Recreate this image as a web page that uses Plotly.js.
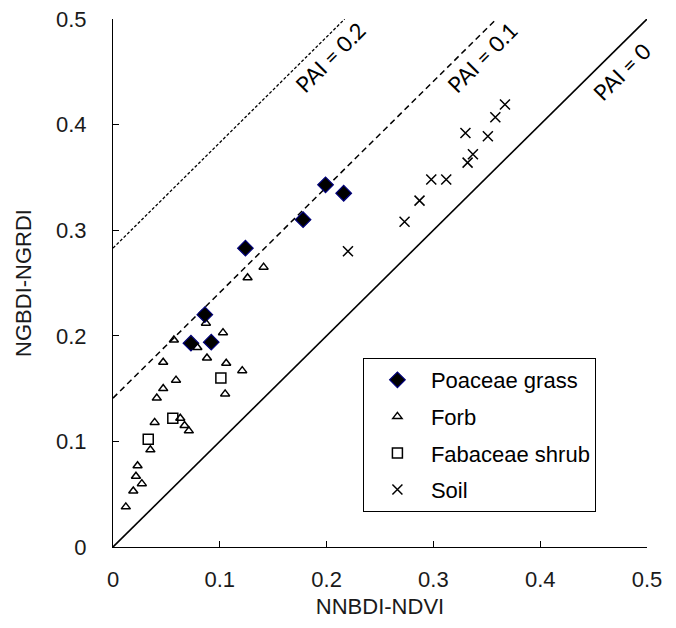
<!DOCTYPE html>
<html>
<head>
<meta charset="utf-8">
<script src="https://cdn.plot.ly/plotly-3.0.1.min.js"></script>
<style>html,body{margin:0;padding:0;background:#fff;}#chart{width:676px;height:628px;}</style>
</head>
<body>
<div id="chart"></div>
<script>
// Poaceae grass
const grassX = [0.124, 0.178, 0.199, 0.216, 0.086, 0.073, 0.092];
const grassY = [0.283, 0.310, 0.343, 0.335, 0.220, 0.193, 0.194];
// Forb
const forbX = [0.141, 0.126, 0.087, 0.103, 0.057, 0.079, 0.088, 0.106, 0.047, 0.121, 0.059, 0.047, 0.041, 0.105, 0.039, 0.063, 0.067, 0.071, 0.035, 0.023, 0.0215, 0.027, 0.019, 0.012];
const forbY = [0.265, 0.255, 0.212, 0.203, 0.196, 0.189, 0.179, 0.174, 0.175, 0.167, 0.158, 0.150, 0.141, 0.145, 0.118, 0.122, 0.115, 0.110, 0.092, 0.077, 0.067, 0.060, 0.053, 0.038];
// Fabaceae shrub
const shrubX = [0.101, 0.056, 0.033];
const shrubY = [0.160, 0.122, 0.102];
// Soil
const soilX = [0.367, 0.358, 0.330, 0.351, 0.337, 0.332, 0.298, 0.312, 0.287, 0.273, 0.220];
const soilY = [0.419, 0.407, 0.392, 0.389, 0.372, 0.364, 0.348, 0.348, 0.328, 0.308, 0.280];
// PAI reference lines: y = x + intercept
const paiLabels = ['PAI = 0', 'PAI = 0.1', 'PAI = 0.2'];
const paiIntercepts = [0, 0.141, 0.283];
const axisMax = 0.5;
const tickVals = [0, 0.1, 0.2, 0.3, 0.4, 0.5];
const tickText = ['0', '0.1', '0.2', '0.3', '0.4', '0.5'];

const dashes = ['solid', '6px,4px', '3px,2px'];
const widths = [1.6, 1.5, 1.3];
const labelPos = [[0.4766, 0.450], [0.3455, 0.464], [0.203, 0.464]];

const traces = [];
paiIntercepts.forEach((b, i) => {
  traces.push({
    x: [0, axisMax - b], y: [b, axisMax],
    mode: 'lines', type: 'scatter', showlegend: false, hoverinfo: 'skip',
    line: {color: '#000', width: widths[i], dash: dashes[i]}
  });
});
traces.push({x: grassX, y: grassY, name: 'Poaceae grass', legendgroup: 'a', mode: 'markers', type: 'scatter',
  marker: {symbol: 'diamond', size: 12, color: '#000', line: {color: '#00007a', width: 1.2}}});
traces.push({x: forbX, y: forbY, name: 'Forb', legendgroup: 'b', mode: 'markers', type: 'scatter',
  marker: {symbol: 'triangle-up-open', size: 8, color: '#000', line: {color: '#000', width: 1.5}}});
traces.push({x: shrubX, y: shrubY, name: 'Fabaceae shrub', legendgroup: 'c', mode: 'markers', type: 'scatter',
  marker: {symbol: 'square-open', size: 10, color: '#000', line: {color: '#000', width: 1.5}}});
traces.push({x: soilX, y: soilY, name: 'Soil', legendgroup: 'd', mode: 'markers', type: 'scatter',
  marker: {symbol: 'x-thin-open', size: 10, color: '#000', line: {color: '#000', width: 1.5}}});

const axFont = {family: 'Liberation Sans, Arial, sans-serif', size: 22, color: '#1a1a1a'};
const layout = {
  width: 676, height: 628,
  margin: {l: 113, r: 29, t: 19, b: 81},
  paper_bgcolor: '#fff', plot_bgcolor: '#fff',
  showlegend: true,
  legend: {x: 0.468, y: 0.358, xanchor: 'left', yanchor: 'top',
    bgcolor: '#fff', bordercolor: '#000', borderwidth: 1,
    font: {family: 'Liberation Sans, Arial, sans-serif', size: 22, color: '#000'},
    tracegroupgap: 5, itemwidth: 57, traceorder: 'grouped'},
  xaxis: {range: [0, axisMax], tickvals: tickVals, ticktext: tickText, showgrid: false, zeroline: false,
    showline: true, linecolor: '#000', linewidth: 1, ticks: 'inside', ticklen: 6, tickcolor: '#000',
    ticklabelstandoff: 13,
    tickfont: axFont, title: {text: 'NNBDI-NDVI', font: axFont, standoff: 7}},
  yaxis: {range: [0, axisMax], tickvals: tickVals, ticktext: tickText, showgrid: false, zeroline: false,
    showline: true, linecolor: '#000', linewidth: 1, ticks: 'inside', ticklen: 6, tickcolor: '#000',
    ticklabelstandoff: 21,
    tickfont: axFont, title: {text: 'NGBDI-NGRDI', font: axFont, standoff: 18}},
  annotations: paiLabels.map((t, i) => ({
    x: labelPos[i][0], y: labelPos[i][1], xref: 'x', yref: 'y', text: t, showarrow: false,
    textangle: -45, font: {family: 'Lato, Open Sans, sans-serif', size: 22, color: '#000'}
  }))
};
Plotly.newPlot('chart', traces, layout, {displayModeBar: false, staticPlot: true});
</script>
</body>
</html>
